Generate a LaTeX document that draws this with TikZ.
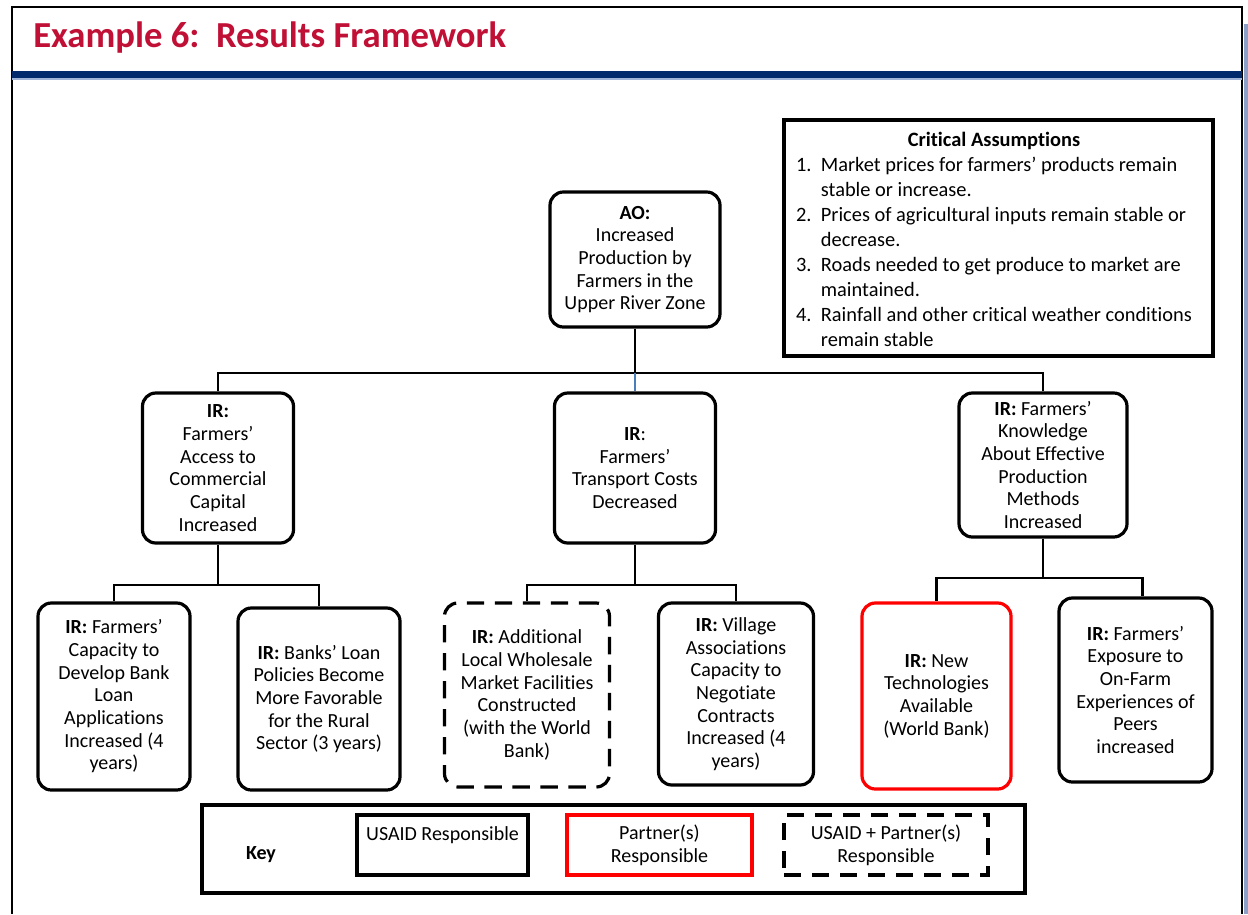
\documentclass[tikz,border=0pt]{standalone}
\usepackage{fontspec}
\setmainfont{Carlito}[Ligatures=NoCommon]
\usepackage{array}
\definecolor{crimson}{RGB}{192,16,54}
\definecolor{navy}{RGB}{0,42,108}
\definecolor{lightbar}{RGB}{160,180,215}
\definecolor{stripblue}{RGB}{140,160,200}
\definecolor{linkblue}{RGB}{74,126,187}
\definecolor{pred}{RGB}{255,0,0}
\newcommand\myfont{\fontsize{15}{17}\selectfont}
\tikzset{
  rbox/.style={draw=black, line width=2.4pt, rounded corners=10pt, align=center, inner sep=0pt, font=\myfont},
  partnerbox/.style={rbox, draw=pred},
  jointbox/.style={rbox, dash pattern=on 13pt off 8pt},
  sbox/.style={draw=black, line width=2.4pt, align=center, inner sep=0pt, font=\myfont},
  conn/.style={draw=black, line width=2pt},
}
\begin{document}
\begin{tikzpicture}[x=0.75pt,y=-0.75pt]
\useasboundingbox (0,0) rectangle (1248,914);
% frame
\fill[stripblue] (1244,24) rectangle (1248,914);
\draw[line width=1.6pt] (12,914) -- (12,7) -- (1242,7) -- (1242,914);
\fill[navy] (12,71) rectangle (1242,78);
\fill[lightbar] (12,78) rectangle (1242,80);
\node[anchor=base west, inner sep=0pt, text=crimson, font=\fontsize{27.5}{32}\selectfont\bfseries] (title) at (33,47) {Example 6:\ \ Results Framework};

% critical assumptions
\node[sbox, minimum width=321.75pt, minimum height=177pt] (ca) at (998.5,238) {};
\node[inner sep=0pt, font=\fontsize{15.3}{18.75}\selectfont] (catext) at (994,241) {%
\begin{tabular}{@{}l@{\hspace{7pt}}l@{}}
\multicolumn{2}{c}{\textbf{Critical Assumptions}}\\
1. & Market prices for farmers’ products remain\\
   & stable or increase.\\
2. & Prices of agricultural inputs remain stable or\\
   & decrease.\\
3. & Roads needed to get produce to market are\\
   & maintained.\\
4. & Rainfall and other critical weather conditions\\
   & remain stable
\end{tabular}};

% AO
\node[rbox, minimum width=127.5pt, minimum height=101.25pt] (ao) at (635,259.5)
  {\textbf{AO:}\\Increased\\Production by\\Farmers in the\\Upper River Zone};

% IR level
\node[rbox, minimum width=113.25pt, minimum height=112.5pt] (ir1) at (218,468)
  {\textbf{IR:}\\Farmers’\\Access to\\Commercial\\Capital\\Increased};
\node[rbox, minimum width=120.75pt, minimum height=112.5pt] (ir2) at (635,468)
  {\textbf{IR}:\\Farmers’\\Transport Costs\\Decreased};
\node[rbox, minimum width=126pt, minimum height=108pt] (ir3) at (1043,465)
  {\textbf{IR:} Farmers’\\Knowledge\\About Effective\\Production\\Methods\\Increased};

% sub level
\node[rbox, minimum width=114pt, minimum height=140.25pt] (s1) at (114,696.5)
  {\textbf{IR:} Farmers’\\Capacity to\\Develop Bank\\Loan\\Applications\\Increased (4\\years)};
\node[rbox, minimum width=121.5pt, minimum height=136.5pt] (s2) at (319,699)
  {\textbf{IR:} Banks’ Loan\\Policies Become\\More Favorable\\for the Rural\\Sector (3 years)};
\node[jointbox, minimum width=123.75pt, minimum height=138pt] (s3) at (527,695)
  {\textbf{IR:} Additional\\Local Wholesale\\Market Facilities\\Constructed\\(with the World\\Bank)};
\node[rbox, minimum width=116.25pt, minimum height=136.5pt] (s4) at (736,694)
  {\textbf{IR:} Village\\Associations\\Capacity to\\Negotiate\\Contracts\\Increased (4\\years)};
\node[partnerbox, minimum width=111.75pt, minimum height=139.5pt] (s5) at (936.5,696)
  {\textbf{IR:} New\\Technologies\\Available\\(World Bank)};
\node[rbox, minimum width=114.75pt, minimum height=138pt] (s6) at (1135.5,690)
  {\textbf{IR:} Farmers’\\Exposure to\\On-Farm\\Experiences of\\Peers\\increased};

% connectors
\coordinate (j0) at (635,373);
\coordinate (j1) at (218,585);
\coordinate (j2) at (635,585);
\coordinate (j3) at (1043,578);
\draw[conn] (ao.south) -- (j0);
\draw[conn] (ir1.north) |- (j0);
\draw[conn] (ir3.north) |- (j0);
\draw[conn, draw=linkblue] (j0) -- (ir2.north);
\draw[conn] (ir1.south) -- (j1);
\draw[conn] (j1) -| (s1.north);
\draw[conn] (j1) -| (s2.north);
\draw[conn] (ir2.south) -- (j2);
\draw[conn] (j2) -| (s3.north);
\draw[conn] (j2) -| (s4.north);
\draw[conn] (ir3.south) -- (j3);
\draw[conn] (j3) -| (s5.north);
\draw[conn] (j3) -| ([xshift=5pt]s6.north);

% key
\node[sbox, minimum width=617.25pt, minimum height=66pt] (key) at (613.5,849) {};
\node[font=\myfont\bfseries, inner sep=0pt] (keylabel) at (261,855) {Key};
\node[sbox, minimum width=128.25pt, minimum height=45pt] (k1) at (442.5,845) {USAID Responsible\\\mbox{}};
\node[sbox, draw=pred, minimum width=138.75pt, minimum height=45pt] (k2) at (659.5,845) {Partner(s)\\Responsible};
\node[sbox, dash pattern=on 13pt off 8pt, minimum width=153pt, minimum height=45pt] (k3) at (886,845) {USAID + Partner(s)\\Responsible};
\end{tikzpicture}
\end{document}
